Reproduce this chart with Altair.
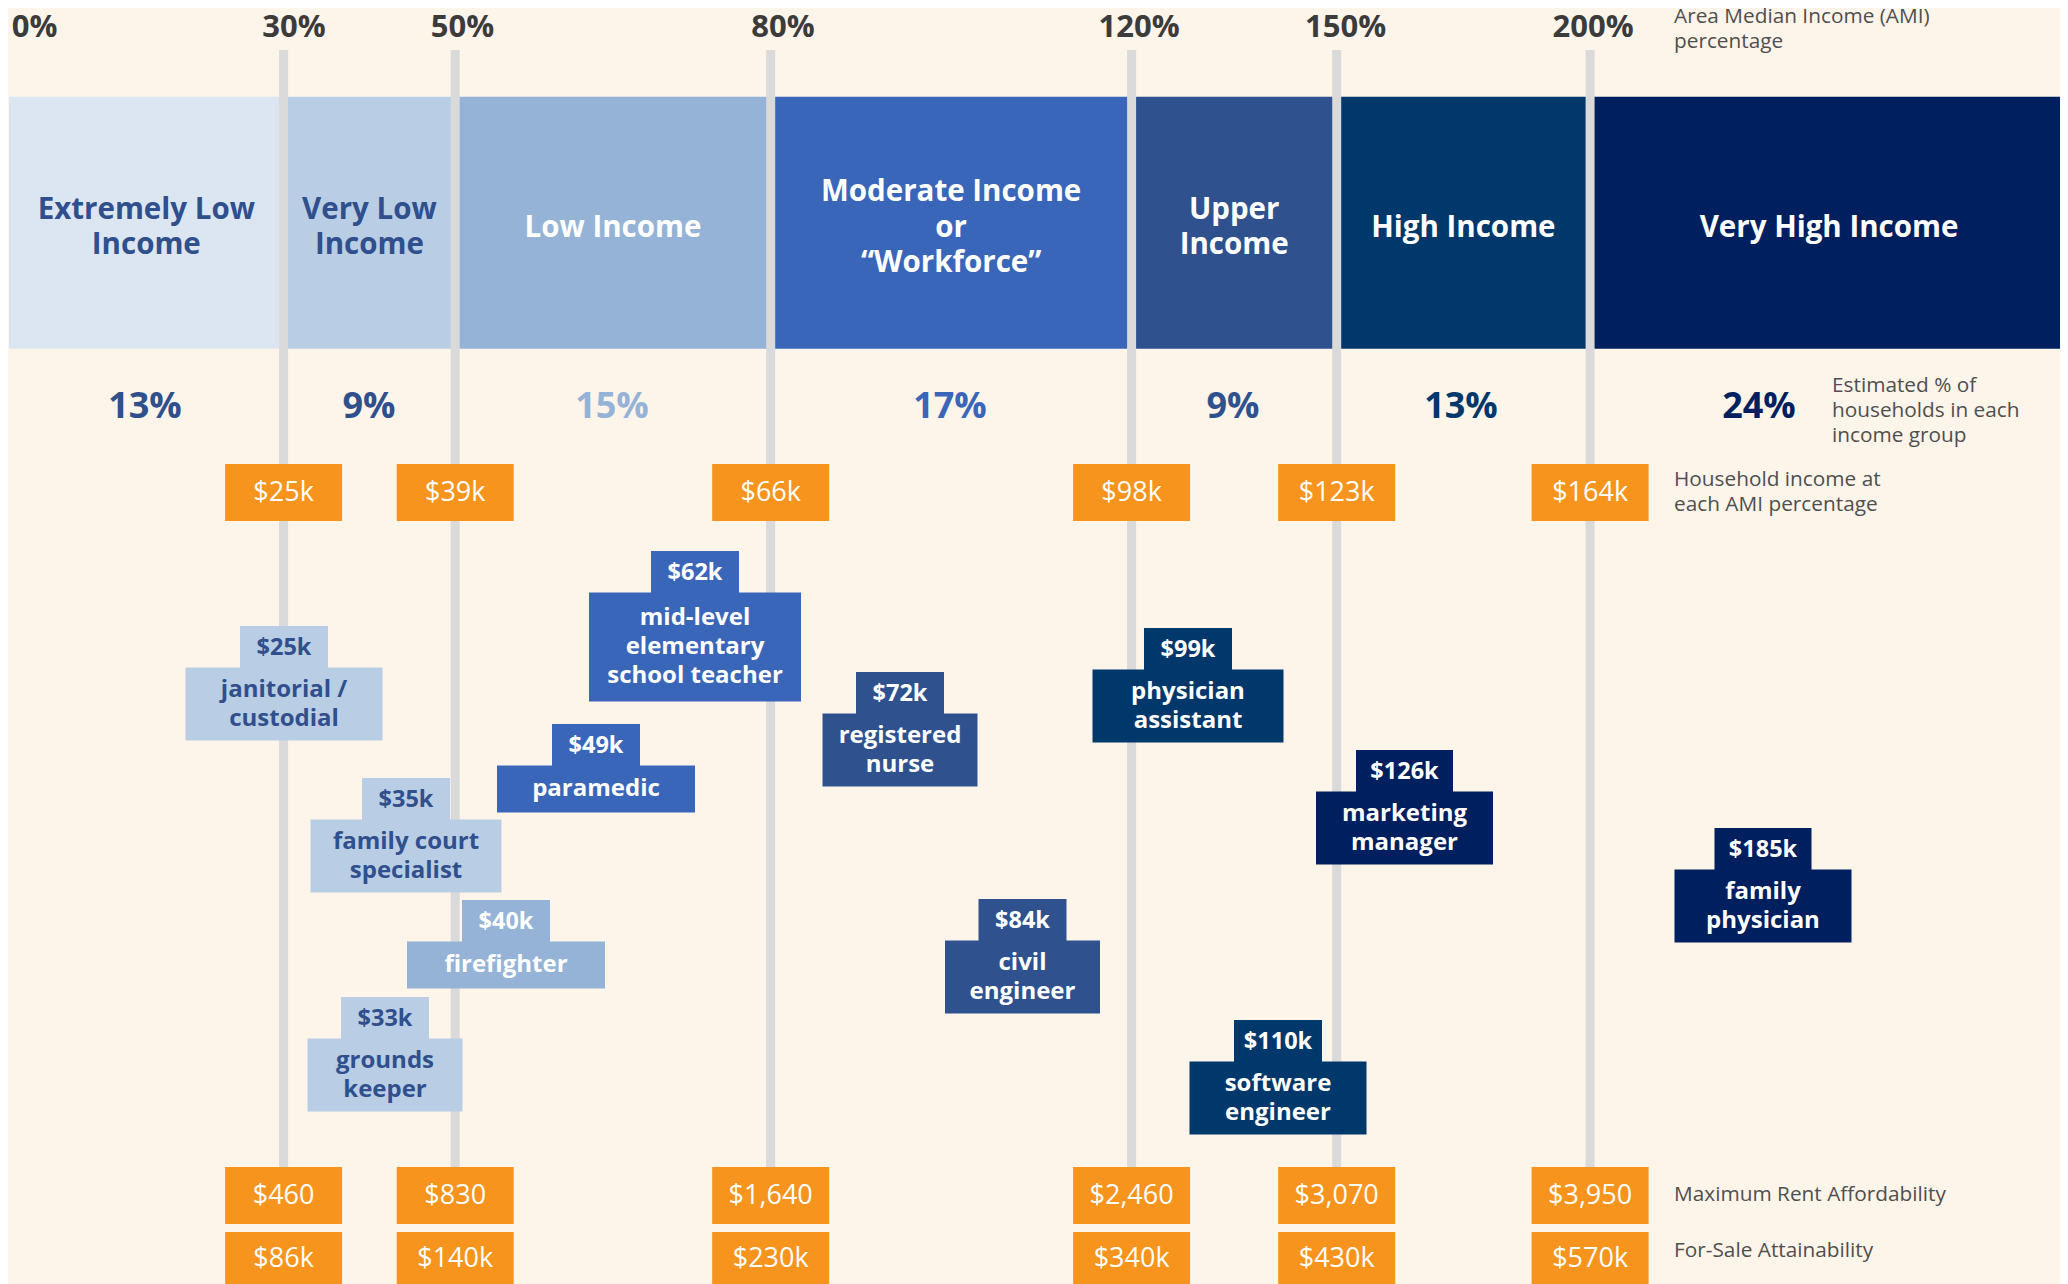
import altair as alt
import pandas as pd

# ------------------------------------------------------------------ data
ami_pct = ["0%", "30%", "50%", "80%", "120%", "150%", "200%"]
group_names = [
    ["Extremely Low", "Income"],
    ["Very Low", "Income"],
    ["Low Income"],
    ["Moderate Income", "or", "“Workforce”"],
    ["Upper", "Income"],
    ["High Income"],
    ["Very High Income"],
]
group_share = ["13%", "9%", "15%", "17%", "9%", "13%", "24%"]
income_at_ami = ["$25k", "$39k", "$66k", "$98k", "$123k", "$164k"]
max_rent = ["$460", "$830", "$1,640", "$2,460", "$3,070", "$3,950"]
for_sale = ["$86k", "$140k", "$230k", "$340k", "$430k", "$570k"]
job_titles = [
    ["janitorial /", "custodial"],
    ["mid-level", "elementary", "school teacher"],
    ["paramedic"],
    ["registered", "nurse"],
    ["family court", "specialist"],
    ["firefighter"],
    ["grounds", "keeper"],
    ["civil", "engineer"],
    ["physician", "assistant"],
    ["software", "engineer"],
    ["marketing", "manager"],
    ["family", "physician"],
]
job_salary = ["$25k", "$62k", "$49k", "$72k", "$35k", "$40k", "$33k",
              "$84k", "$99k", "$110k", "$126k", "$185k"]
tiers = ["ELI", "VLI", "LI", "MI", "UI", "HI", "VHI"]
job_tier = ["VLI", "MI", "MI", "UI", "VLI", "LI", "VLI", "UI", "HI", "HI", "VHI", "VHI"]
row_notes = [
    ["Area Median Income (AMI)", "percentage"],
    ["Estimated % of", "households in each", "income group"],
    ["Household income at", "each AMI percentage"],
    ["Maximum Rent Affordability"],
    ["For-Sale Attainability"],
]

# ------------------------------------------------------------------ styles
PAL = ["#dce6f2", "#b9cde5", "#95b3d7", "#3a66ba", "#2f528f", "#00386c", "#001f5e"]
INK = ["#2f4f8d", "#2f4f8d", "#ffffff", "#ffffff", "#ffffff", "#ffffff", "#ffffff"]
SHARE_INK = ["#2f4f8d", "#2f4f8d", "#95b3d7", "#3a66ba", "#2f528f", "#00386c", "#001f5e"]
ORANGE = "#f7941d"
BG = "#fdf4ea"
FONT = "Open Sans"

# ------------------------------------------------------------------ layout (reference page pixels)
W, H = 2052, 1276
OFF = 8
band_edges = [9, 283.6, 455.2, 770.7, 1131.6, 1336.7, 1590.1, OFF + W]
band_top, band_bottom = 96.7, 348.7
band_label_y, band_lh = 227.5, 35.5
ami_label_x = [34.5, 294, 462.5, 783, 1139, 1345.5, 1593]
ami_label_y = 27.5
line_top, line_bottom = 50, 1167
share_x = [145, 369, 612, 950, 1233, 1461, 1759]
share_y = 407
orange_rows = [(464, 521), (1167, 1224), (1232, OFF + H)]
orange_text_y = [492.5, 1195.5, 1259]
orange_w = 117
job_layout = [  # centre x, tab top, tab width, box width
    (284, 626, 88, 197),
    (695, 551, 88, 212),
    (596, 724, 88, 198),
    (900, 672, 88, 155),
    (406, 778, 88, 191),
    (506, 900, 88, 198),
    (385, 997, 88, 155),
    (1022.5, 899, 88, 155),
    (1188, 628, 88, 191),
    (1278, 1020, 88, 177),
    (1404.5, 750, 97, 177),
    (1763, 828, 97, 177),
]
TAB_H = 41.5
JOB_LH = 29
box_h = {1: 47, 2: 73, 3: 109}
notes_layout = [(1674, 16.5), (1832, 386), (1674, 480), (1674, 1195), (1674, 1251)]
NOTE_LH = 25

xs = alt.Scale(domain=[OFF, OFF + W], range=[0, W], nice=False, zero=False)
ys = alt.Scale(domain=[OFF, OFF + H], range=[0, H], nice=False, zero=False)


def X(f):
    return alt.X(f"{f}:Q", scale=xs, axis=None)


def Y(f):
    return alt.Y(f"{f}:Q", scale=ys, axis=None)


tier_fill = alt.Fill("tier:N", scale=alt.Scale(domain=tiers, range=PAL), legend=None)
tier_ink = alt.Color("tier:N", scale=alt.Scale(domain=tiers, range=INK), legend=None)
share_ink = alt.Color("tier:N", scale=alt.Scale(domain=tiers, range=SHARE_INK), legend=None)

# ------------------------------------------------------------------ tables
bands = pd.DataFrame({
    "tier": tiers,
    "x0": band_edges[:-1],
    "x1": band_edges[1:],
    "y0": band_top,
    "y1": band_bottom,
})

band_txt = []
for i, lines in enumerate(group_names):
    cx = (band_edges[i] + band_edges[i + 1]) / 2
    if i == len(group_names) - 1:
        cx = (band_edges[i] + 2068) / 2
    n = len(lines)
    for k, ln in enumerate(lines):
        band_txt.append(dict(x=cx, y=band_label_y + (k - (n - 1) / 2) * band_lh, t=ln, tier=tiers[i]))
band_txt = pd.DataFrame(band_txt)

rules = pd.DataFrame({"x": band_edges[1:-1], "y0": line_top, "y1": line_bottom})

ami_df = pd.DataFrame({"x": ami_label_x, "y": ami_label_y, "t": ami_pct})

share_df = pd.DataFrame({"x": share_x, "y": share_y, "t": group_share, "tier": tiers})

orange_box, orange_txt = [], []
for (y0, y1), ty, vals in zip(orange_rows, orange_text_y, [income_at_ami, max_rent, for_sale]):
    for cx, v in zip(band_edges[1:-1], vals):
        orange_box.append(dict(x0=cx - orange_w / 2, x1=cx + orange_w / 2, y0=y0, y1=y1))
        orange_txt.append(dict(x=cx, y=ty, t=v))
orange_box = pd.DataFrame(orange_box)
orange_txt = pd.DataFrame(orange_txt)

job_rects, job_sal, job_ttl = [], [], []
for lines, sal, tier, (cx, top, tw, bw) in zip(job_titles, job_salary, job_tier, job_layout):
    n = len(lines)
    bh = box_h[n]
    ty1 = top + TAB_H
    job_rects.append(dict(x0=cx - tw / 2, x1=cx + tw / 2, y0=top, y1=ty1 + 1, tier=tier))
    job_rects.append(dict(x0=cx - bw / 2, x1=cx + bw / 2, y0=ty1, y1=ty1 + bh, tier=tier))
    job_sal.append(dict(x=cx, y=top + TAB_H / 2 + 1, t=sal, tier=tier))
    mid = ty1 + bh / 2
    for k, ln in enumerate(lines):
        job_ttl.append(dict(x=cx, y=mid + (k - (n - 1) / 2) * JOB_LH, t=ln, tier=tier))
job_rects = pd.DataFrame(job_rects)
job_sal = pd.DataFrame(job_sal)
job_ttl = pd.DataFrame(job_ttl)

notes = []
for lines, (nx, ny) in zip(row_notes, notes_layout):
    for k, ln in enumerate(lines):
        notes.append(dict(x=nx, y=ny + k * NOTE_LH, t=ln))
notes = pd.DataFrame(notes)

# ------------------------------------------------------------------ layers
band_layer = alt.Chart(bands).mark_rect().encode(
    x=X("x0"), x2="x1:Q", y=Y("y0"), y2="y1:Q", fill=tier_fill)

rule_layer = alt.Chart(rules).mark_rule(strokeWidth=9, color="#dadada").encode(
    x=X("x"), y=Y("y0"), y2="y1:Q")

orange_layer = alt.Chart(orange_box).mark_rect(color=ORANGE).encode(
    x=X("x0"), x2="x1:Q", y=Y("y0"), y2="y1:Q")

orange_text = alt.Chart(orange_txt).mark_text(
    font=FONT, fontSize=27, fontWeight="normal", color="#ffffff", baseline="middle").encode(
    x=X("x"), y=Y("y"), text="t:N")

job_rect_layer = alt.Chart(job_rects).mark_rect().encode(
    x=X("x0"), x2="x1:Q", y=Y("y0"), y2="y1:Q", fill=tier_fill)

job_sal_layer = alt.Chart(job_sal).mark_text(
    font=FONT, fontSize=23.5, fontWeight="bold", baseline="middle").encode(
    x=X("x"), y=Y("y"), text="t:N", color=tier_ink)

job_ttl_layer = alt.Chart(job_ttl).mark_text(
    font=FONT, fontSize=24, fontWeight="bold", baseline="middle").encode(
    x=X("x"), y=Y("y"), text="t:N", color=tier_ink)

band_text_layer = alt.Chart(band_txt).mark_text(
    font=FONT, fontSize=29.5, fontWeight="bold", baseline="middle").encode(
    x=X("x"), y=Y("y"), text="t:N", color=tier_ink)

share_layer = alt.Chart(share_df).mark_text(
    font=FONT, fontSize=36, fontWeight="bold", baseline="middle").encode(
    x=X("x"), y=Y("y"), text="t:N", color=share_ink)

ami_layer = alt.Chart(ami_df).mark_text(
    font=FONT, fontSize=31, fontWeight="bold", baseline="middle", color="#3b3b3b").encode(
    x=X("x"), y=Y("y"), text="t:N")

notes_layer = alt.Chart(notes).mark_text(
    font=FONT, fontSize=20.8, fontWeight="normal", align="left", baseline="middle",
    color="#4f4f4f").encode(
    x=X("x"), y=Y("y"), text="t:N")

chart = alt.layer(
    band_layer, rule_layer, orange_layer, orange_text, job_rect_layer,
    job_sal_layer, job_ttl_layer, band_text_layer, share_layer, ami_layer, notes_layer,
).resolve_scale(
    color="independent", fill="independent"
).properties(
    width=W, height=H, padding=0, background=BG,
    autosize=alt.AutoSizeParams(type="none"),
).configure_view(stroke=None)

chart.save("out.html", embed_options={"renderer": "svg", "actions": False})
